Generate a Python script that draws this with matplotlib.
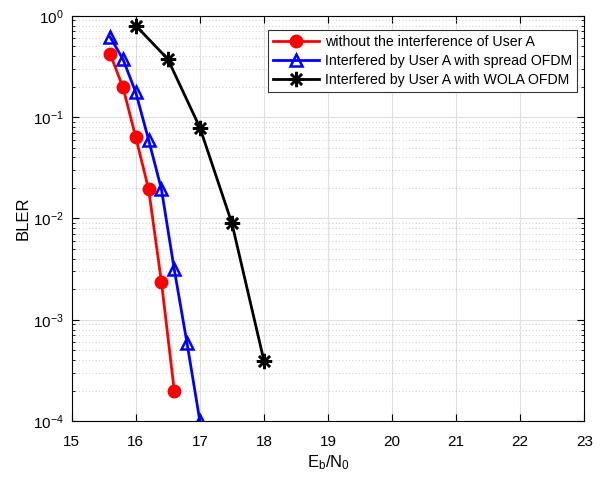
import matplotlib
matplotlib.use("Agg")
import matplotlib.pyplot as plt
from matplotlib.ticker import LogLocator, NullFormatter, FixedLocator

plt.rcParams['font.family'] = ['Liberation Sans', 'DejaVu Sans']
plt.rcParams['mathtext.default'] = 'regular'
plt.rcParams['axes.unicode_minus'] = False

x_red = [15.6, 15.8, 16.0, 16.2, 16.4, 16.6]
y_red = [0.42, 0.196, 0.063, 0.0194, 0.00236, 0.0002]

x_blue = [15.6, 15.8, 16.0, 16.2, 16.4, 16.6, 16.8, 17.0]
y_blue = [0.615, 0.373, 0.175, 0.0596, 0.0194, 0.00315, 0.000585, 0.0001]

x_black = [16.0, 16.5, 17.0, 17.5, 18.0]
y_black = [0.80, 0.373, 0.0788, 0.00896, 0.000394]

labels = ['without the interference of User A',
          'Interfered by User A with spread OFDM',
          'Interfered by User A with WOLA OFDM']
xticks = [15, 16, 17, 18, 19, 20, 21, 22, 23]

fig = plt.figure(figsize=(6.08, 4.78), dpi=100)
ax = fig.add_axes([0.118, 0.119, 0.843, 0.848])

ax.semilogy(x_red, y_red, color='red', lw=2, marker='o', ms=9,
            mfc='red', mec='red', label=labels[0])
ax.semilogy(x_blue, y_blue, color='blue', lw=2, marker='^', ms=9,
            mfc='none', mec='blue', mew=1.8, label=labels[1])
ax.semilogy(x_black, y_black, color='black', lw=2, marker=(8, 2, 0), ms=11,
            mec='black', mew=1.8, label=labels[2])

ax.set_xlim(15, 23)
ax.set_ylim(1e-4, 1)
ax.xaxis.set_major_locator(FixedLocator(xticks))
ax.yaxis.set_major_locator(LogLocator(base=10, numticks=10))
ax.yaxis.set_minor_locator(LogLocator(base=10, subs=range(2, 10), numticks=10))
ax.yaxis.set_minor_formatter(NullFormatter())

ax.grid(True, which='major', color='#e0e0e0', lw=0.8, ls='-')
ax.grid(True, which='minor', axis='y', color='#b8b8b8', lw=0.6, ls=(0, (1, 3)))
ax.set_axisbelow(True)

ax.tick_params(which='both', direction='in', top=True, right=True, labelsize=11)
ax.tick_params(axis='x', pad=10)
ax.tick_params(axis='y', pad=6)
ax.tick_params(which='major', length=5)
ax.tick_params(which='minor', length=2.5)
for s in ax.spines.values():
    s.set_linewidth(0.8)

ax.set_xlabel('E$_b$/N$_0$', fontsize=12, labelpad=3)
ax.set_ylabel('BLER', fontsize=12, labelpad=1.5)

leg = ax.legend(loc='upper right', bbox_to_anchor=(0.986, 0.965), fontsize=10.2,
                fancybox=False, framealpha=1, edgecolor='#333333',
                borderaxespad=0, handlelength=3.3, labelspacing=0.35,
                borderpad=0.35, handletextpad=0.4)
leg.get_frame().set_linewidth(0.8)

fig.savefig('out.png', dpi=100)
